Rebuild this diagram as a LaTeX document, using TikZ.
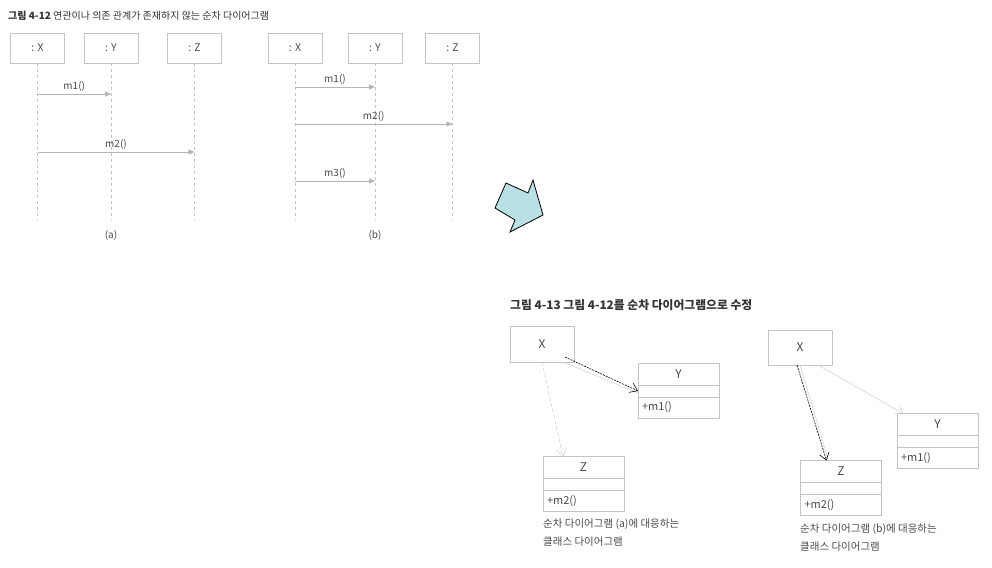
\documentclass[tikz,border=0pt]{standalone}
\usepackage{fontspec}
\setmainfont{Noto Sans CJK KR}
\usepackage{tikz}
\usetikzlibrary{arrows.meta, positioning}

\definecolor{boxline}{HTML}{C4C4C4}
\definecolor{msgline}{HTML}{B4B4B4}
\definecolor{txtgray}{HTML}{4A4A4A}
\definecolor{arrowfill}{HTML}{B9E0E4}

\begin{document}
\begin{tikzpicture}[
    x=1pt, y=-1pt,
    font=\fontsize{10}{12}\selectfont, text=txtgray,
    obj/.style={draw=boxline, minimum width=54pt, minimum height=30pt,
                inner sep=0pt, outer sep=0pt, font=\fontsize{10.5}{12}\selectfont},
    life/.style={draw=boxline, dashed},
    msg/.style={draw=msgline, -{Triangle[length=6pt, width=5pt]}},
    plain/.style={draw=boxline, minimum width=64pt, minimum height=36pt,
                  inner sep=0pt, outer sep=0pt, font=\fontsize{12}{14}\selectfont},
    clsname/.style={draw=boxline, minimum width=81pt, minimum height=22pt,
                    inner sep=0pt, outer sep=0pt, font=\fontsize{12}{14}\selectfont},
    clsmid/.style={draw=boxline, minimum width=81pt, minimum height=12pt,
                   inner sep=0pt, outer sep=0pt},
    clsop/.style={draw=boxline, minimum height=21pt, text width=73pt,
                  inner xsep=4pt, inner ysep=0pt, outer sep=0pt, align=left,
                  font=\fontsize{11}{13}\selectfont},
    dep/.style={-{Straight Barb[length=7pt, width=10pt]}},
    caption/.style={anchor=north west, align=left, inner sep=0pt,
                    font=\fontsize{10.5}{18}\selectfont},
    node distance=0pt
]
\useasboundingbox (0,0) rectangle (992,567);

%% ---- Figure 4-12 : sequence diagrams -------------------------
\node[anchor=west, inner sep=0pt, text=black!80, font=\fontsize{10}{12}\selectfont]
    (title1) at (8,16)
    {\textbf{그림 4-12} 연관이나 의존 관계가 존재하지 않는 순차 다이어그램};

% (a)
\node[obj] (sxa) at (37.5,48)  {: X};
\node[obj] (sya) at (111,48)   {: Y};
\node[obj] (sza) at (194.5,48) {: Z};
\draw[life] (sxa.south) -- (sxa.south |- 0,220);
\draw[life] (sya.south) -- (sya.south |- 0,220);
\draw[life] (sza.south) -- (sza.south |- 0,220);

\draw[msg] (sxa.south |- 0,94)  -- node[above, inner sep=2pt] {m1()} (sya.south |- 0,94);
\draw[msg] (sxa.south |- 0,152) -- node[above, inner sep=2pt] {m2()} (sza.south |- 0,152);
\node (capa) at (111,235) {(a)};

% (b)
\node[obj] (sxb) at (295,48)   {: X};
\node[obj] (syb) at (375,48)   {: Y};
\node[obj] (szb) at (452.5,48) {: Z};
\draw[life] (sxb.south) -- (sxb.south |- 0,220);
\draw[life] (syb.south) -- (syb.south |- 0,220);
\draw[life] (szb.south) -- (szb.south |- 0,220);

\draw[msg] (sxb.south |- 0,87)  -- node[above, inner sep=2pt] {m1()} (syb.south |- 0,87);
\draw[msg] (sxb.south |- 0,124) -- node[above, inner sep=2pt] {m2()} (szb.south |- 0,124);
\draw[msg] (sxb.south |- 0,181) -- node[above, inner sep=2pt] {m3()} (syb.south |- 0,181);
\node (capb) at (375,235) {(b)};

%% ---- big arrow ------------------------------------------------
\draw[fill=arrowfill, line width=0.8pt, line join=miter]
    (506,183) -- (528,193) -- (533,180) -- (543,215) -- (510,232)
    -- (515,220) -- (495,208) -- cycle;

%% ---- Figure 4-13 : class diagrams ----------------------------
\node[anchor=west, inner sep=0pt, text=black!80, font=\bfseries\fontsize{11.8}{13}\selectfont]
    (title2) at (510,305) {그림 4-13 그림 4-12를 순차 다이어그램으로 수정};

% left
\node[plain] (xl) at (542,344) {X};
\node[clsname] (yl) at (678.5,374) {Y};
\node[clsmid, below=of yl] (ylm) {};
\node[clsop, below=of ylm] (ylo) {+m1()};
\node[clsname] (zl) at (583.5,467.5) {Z};
\node[clsmid, below=of zl] (zlm) {};
\node[clsop, below=of zlm] (zlo) {+m2()};

\draw[boxline] ([xshift=-11pt]xl.south east) -- ([yshift=-2pt]ylm.west);
\draw[dep, black, line width=0.6pt, dash pattern=on 2pt off 1pt] ([shift={(-9pt,5pt)}]xl.south east) -- (ylm.west);
\draw[dep, boxline, dash pattern=on 4pt off 2pt] (xl.south) -- ([xshift=20pt]zl.north west);

\node[caption] (capl) at (543,519) {순차 다이어그램 (a)에 대응하는\\클래스 다이어그램};

% right
\node[plain, minimum height=35pt] (xr) at (800,347.5) {X};
\node[clsname] (yr) at (937.5,424.5) {Y};
\node[clsmid, below=of yr] (yrm) {};
\node[clsop, below=of yrm] (yro) {+m1()};
\node[clsname] (zr) at (841,471.5) {Z};
\node[clsmid, below=of zr] (zrm) {};
\node[clsop, below=of zrm] (zro) {+m2()};

\draw[dep, boxline] ([xshift=-14pt]xr.south east) -- ([xshift=6pt]yr.north west);
\draw[boxline] (xr.south) -- ([xshift=28pt]zr.north west);
\draw[dep, black, line width=0.6pt, dash pattern=on 2pt off 1pt] ([xshift=-3pt]xr.south) -- ([xshift=26pt]zr.north west);

\node[caption] (capr) at (800,524) {순차 다이어그램 (b)에 대응하는\\클래스 다이어그램};

\end{tikzpicture}
\end{document}
